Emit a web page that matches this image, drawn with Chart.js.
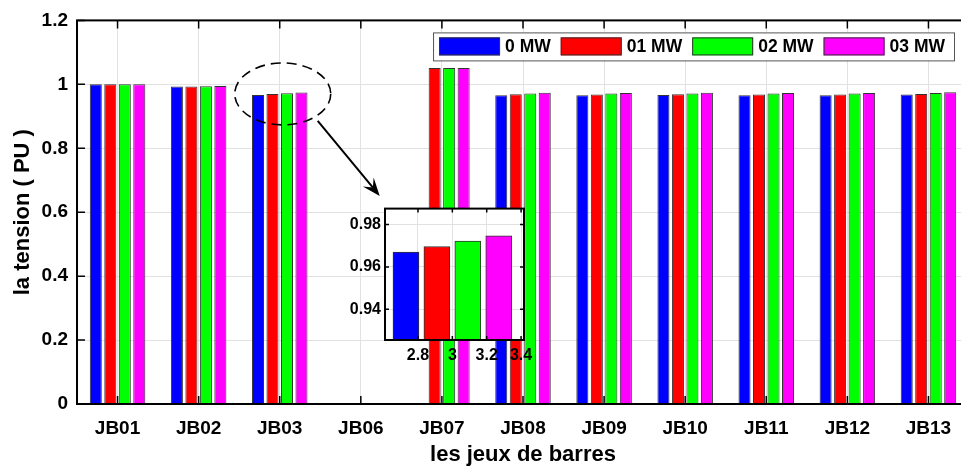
<!DOCTYPE html>
<html>
<head>
<meta charset="utf-8">
<script src="https://cdn.jsdelivr.net/npm/chart.js@4.4.1/dist/chart.umd.min.js"></script>
<style>
html, body { margin: 0; padding: 0; background: #fff; overflow: hidden; width: 961px; height: 466px; }
#wrap { position: relative; width: 961px; height: 466px; overflow: hidden; }
#main { position: absolute; left: 0; top: 0; }
#zoom { position: absolute; left: 330px; top: 195px; }
</style>
</head>
<body>
<div id="wrap">
	<canvas id="main" width="975" height="466"></canvas>
	<canvas id="zoom" width="215" height="190"></canvas>
</div>
<script>
const buses = ['JB01', 'JB02', 'JB03', 'JB06', 'JB07', 'JB08', 'JB09', 'JB10', 'JB11', 'JB12', 'JB13'];
const seriesNames = ['0 MW', '01 MW', '02 MW', '03 MW'];
const seriesColors = ['#0000ff', '#ff0000', '#00ff00', '#ff00ff'];
const v0MW  = [1.000, 0.993, 0.967,  0, 0,     0.966, 0.966, 0.967, 0.966, 0.966, 0.968];
const v01MW = [1.000, 0.993, 0.9696, 0, 1.051, 0.969, 0.968, 0.969, 0.968, 0.968, 0.970];
const v02MW = [1.000, 0.994, 0.9722, 0, 1.051, 0.971, 0.971, 0.971, 0.971, 0.971, 0.973];
const v03MW = [1.000, 0.995, 0.9747, 0, 1.051, 0.974, 0.973, 0.974, 0.973, 0.973, 0.975];
const yTicks = [0, 0.2, 0.4, 0.6, 0.8, 1, 1.2];

// inset: zoom on JB03, bars sit at the grouped-bar offsets around x = 3
const zoomBus = 2;
const zoomX = [2.73, 2.91, 3.09, 3.27];
const zoomXTicks = [2.8, 3, 3.2, 3.4];
const zoomYTicks = [0.94, 0.96, 0.98];

const allSeries = [v0MW, v01MW, v02MW, v03MW];
const FONT = '"Liberation Sans", Arial, sans-serif';

// black box round the plot with inward tick marks
const frame = {
	id: 'frame',
	afterDatasetsDraw(chart, args, opts) {
		const {ctx, chartArea: a, scales: {x, y}} = chart;
		ctx.save();
		ctx.strokeStyle = '#000';
		ctx.lineWidth = 1.5;
		ctx.beginPath();
		x.ticks.forEach((t, i) => {
			const px = x.getPixelForTick(i);
			ctx.moveTo(px, a.bottom); ctx.lineTo(px, a.bottom - opts.tick);
			ctx.moveTo(px, a.top); ctx.lineTo(px, a.top + opts.tick);
		});
		y.ticks.forEach((t, i) => {
			const py = y.getPixelForTick(i);
			ctx.moveTo(a.left, py); ctx.lineTo(a.left + opts.tick, py);
			ctx.moveTo(a.right, py); ctx.lineTo(a.right - opts.tick, py);
		});
		ctx.stroke();
		ctx.lineWidth = opts.width;
		ctx.strokeRect(a.left, a.top, a.right - a.left, a.bottom - a.top);
		ctx.restore();
	}
};

// legend in a box, top right inside the plot
const boxLegend = {
	id: 'boxLegend',
	afterDraw(chart) {
		const {ctx, chartArea: a} = chart;
		ctx.save();
		ctx.font = 'bold 17.5px ' + FONT;
		const sw = 61, sh = 18, gap = 5, sep = 10, padL = 6, padR = 9, h = 28;
		const items = chart.data.datasets.map(d => ({label: d.label, color: d.backgroundColor, w: ctx.measureText(d.label).width}));
		const total = padL + padR + items.reduce((s, it) => s + sw + gap + it.w, 0) + sep * (items.length - 1);
		const right = a.right - 15, top = a.top + 12;
		const left = right - total;
		ctx.fillStyle = '#fff';
		ctx.fillRect(left, top, total, h);
		ctx.strokeStyle = '#555';
		ctx.lineWidth = 1;
		ctx.strokeRect(left + 0.5, top + 0.5, total, h);
		let cx = left + padL;
		items.forEach(it => {
			ctx.fillStyle = it.color;
			ctx.fillRect(cx, top + 5, sw, sh);
			ctx.strokeStyle = '#333';
			ctx.strokeRect(cx + 0.5, top + 5.5, sw - 1, sh - 1);
			cx += sw + gap;
			ctx.fillStyle = '#000';
			ctx.textBaseline = 'middle';
			ctx.fillText(it.label, cx, top + h / 2 + 1);
			cx += it.w + sep;
		});
		ctx.restore();
	}
};

// dashed ellipse round JB03 and the arrow to the inset
const callout = {
	id: 'callout',
	afterDraw(chart) {
		const {ctx, scales: {x, y}} = chart;
		const cx = x.getPixelForValue(zoomBus) + 3, cy = y.getPixelForValue(0.97);
		ctx.save();
		ctx.strokeStyle = '#000';
		ctx.lineWidth = 1.6;
		ctx.setLineDash([10, 6]);
		ctx.beginPath();
		ctx.ellipse(cx, cy, 48, 31, 0, 0, Math.PI * 2);
		ctx.stroke();
		ctx.setLineDash([]);
		const sx = cx + 35, sy = cy + 27, ex = cx + 97, ey = cy + 102;
		const ang = Math.atan2(ey - sy, ex - sx);
		const dx = Math.cos(ang), dy = Math.sin(ang);
		ctx.lineWidth = 2;
		ctx.beginPath();
		ctx.moveTo(sx, sy);
		ctx.lineTo(ex - dx * 10, ey - dy * 10);
		ctx.stroke();
		const L = 18, W = 7;
		ctx.fillStyle = '#000';
		ctx.beginPath();
		ctx.moveTo(ex, ey);
		ctx.lineTo(ex - dx * L - dy * W, ey - dy * L + dx * W);
		ctx.lineTo(ex - dx * L * 0.6, ey - dy * L * 0.6);
		ctx.lineTo(ex - dx * L + dy * W, ey - dy * L - dx * W);
		ctx.closePath();
		ctx.fill();
		ctx.restore();
	}
};

const whiteArea = {
	id: 'whiteArea',
	beforeDraw(chart) {
		const {ctx, chartArea: a} = chart;
		ctx.save();
		ctx.fillStyle = '#fff';
		ctx.fillRect(a.left, a.top, a.right - a.left, a.bottom - a.top);
		ctx.restore();
	}
};

new Chart(document.getElementById('main'), {
	type: 'bar',
	data: {
		labels: buses,
		datasets: allSeries.map((vals, i) => ({
			label: seriesNames[i],
			data: vals,
			backgroundColor: seriesColors[i],
			borderColor: '#333',
			borderWidth: 1,
			categoryPercentage: 0.715,
			barPercentage: 0.83
		}))
	},
	options: {
		responsive: false,
		animation: false,
		layout: {padding: {top: 20, right: 6, left: 0, bottom: 0}},
		plugins: {
			legend: {display: false},
			tooltip: {enabled: false},
			frame: {width: 2, tick: 8}
		},
		scales: {
			x: {
				grid: {offset: false, color: '#e2e2e2', drawTicks: false},
				border: {display: false},
				ticks: {color: '#000', font: {family: FONT, size: 19, weight: 'bold'}, padding: 13, maxRotation: 0, autoSkip: false},
				title: {display: true, text: 'les jeux de barres', color: '#000', font: {family: FONT, size: 22, weight: 'bold', lineHeight: 1}, padding: 0},
				afterFit: s => { s.height = 62; }
			},
			y: {
				min: 0,
				max: 1.2,
				afterBuildTicks: s => { s.ticks = yTicks.map(v => ({value: v})); },
				grid: {color: '#e2e2e2', drawTicks: false},
				border: {display: false},
				ticks: {color: '#000', font: {family: FONT, size: 19, weight: 'bold'}, padding: 9, callback: v => String(+v.toFixed(1))},
				title: {display: true, text: 'la tension ( PU )', color: '#000', font: {family: FONT, size: 22, weight: 'bold', lineHeight: 1}, padding: 12},
				afterFit: s => { s.width = 77; }
			}
		}
	},
	plugins: [frame, boxLegend, callout]
});

new Chart(document.getElementById('zoom'), {
	type: 'bar',
	data: {
		datasets: [{
			label: buses[zoomBus],
			data: zoomX.map((xv, i) => ({x: xv, y: allSeries[i][zoomBus]})),
			backgroundColor: seriesColors,
			borderColor: '#333',
			borderWidth: 1,
			barThickness: 26
		}]
	},
	options: {
		responsive: false,
		animation: false,
		layout: {padding: {top: 12, right: 21, left: 0, bottom: 0}},
		plugins: {
			legend: {display: false},
			tooltip: {enabled: false},
			frame: {width: 2, tick: 4}
		},
		scales: {
			x: {
				type: 'linear',
				offset: false,
				min: 2.608,
				max: 3.417,
				afterBuildTicks: s => { s.ticks = zoomXTicks.map(v => ({value: v})); },
				grid: {offset: false, color: '#e2e2e2', drawTicks: false},
				border: {display: false},
				ticks: {color: '#000', font: {family: FONT, size: 16, weight: 'bold'}, padding: 6, maxRotation: 0, autoSkip: false, callback: v => String(+v.toFixed(1))},
				afterFit: s => { s.height = 45; }
			},
			y: {
				min: 0.9255,
				max: 0.9875,
				afterBuildTicks: s => { s.ticks = zoomYTicks.map(v => ({value: v})); },
				grid: {color: '#e2e2e2', drawTicks: false},
				border: {display: false},
				ticks: {color: '#000', font: {family: FONT, size: 16, weight: 'bold'}, padding: 4, callback: v => v.toFixed(2)},
				afterFit: s => { s.width = 55; }
			}
		}
	},
	plugins: [whiteArea, frame]
});
</script>
</body>
</html>
